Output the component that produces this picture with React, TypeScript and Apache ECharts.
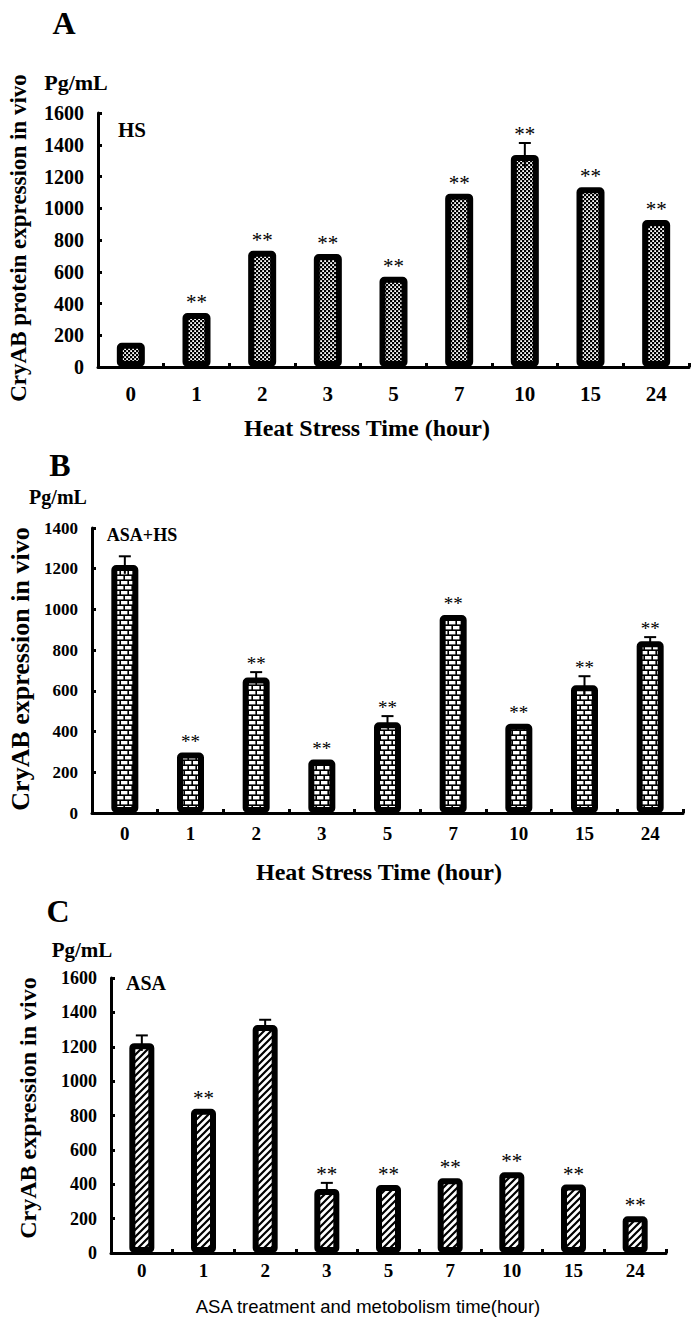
import React, { useEffect, useRef } from "react";
import * as echarts from "echarts";

// ---- data ----
const categories = ["0", "1", "2", "3", "5", "7", "10", "15", "24"];

const hsValues = [152, 340, 732, 712, 568, 1092, 1336, 1132, 926];
const hsErrors = [0, 0, 0, 0, 0, 0, 75, 0, 0];
const hsSig = ["", "**", "**", "**", "**", "**", "**", "**", "**"];

const asaHsValues = [1218, 297, 666, 263, 446, 973, 438, 627, 844];
const asaHsErrors = [43, 0, 26, 0, 30, 0, 0, 45, 20];
const asaHsSig = ["", "**", "**", "**", "**", "**", "**", "**", "**"];

const asaValues = [1221, 839, 1327, 373, 396, 435, 470, 398, 214];
const asaErrors = [45, 0, 30, 35, 0, 0, 0, 0, 0];
const asaSig = ["", "**", "", "**", "**", "**", "**", "**", "**"];

const yMaxA = 1600;
const yMaxB = 1400;
const yMaxC = 1600;
const yStep = 200;

// ---- patterns ----
const svgUrl = (s: string) => "data:image/svg+xml;utf8," + encodeURIComponent(s);
const checkerSvg =
  "<svg xmlns='http://www.w3.org/2000/svg' width='4' height='4'><rect width='4' height='4' fill='black'/><rect x='0.2' y='0.2' width='1.8' height='1.8' fill='white'/><rect x='2.2' y='2.2' width='1.8' height='1.8' fill='white'/></svg>";
const brickSvg =
  "<svg xmlns='http://www.w3.org/2000/svg' width='16' height='10'><rect width='16' height='10' fill='black'/>" +
  "<rect x='1' y='1' width='6.4' height='3.4' fill='white'/><rect x='9' y='1' width='6.4' height='3.4' fill='white'/>" +
  "<rect x='-3' y='6' width='6.4' height='3.4' fill='white'/><rect x='5' y='6' width='6.4' height='3.4' fill='white'/><rect x='13' y='6' width='6.4' height='3.4' fill='white'/></svg>";
const hatchSvg =
  "<svg xmlns='http://www.w3.org/2000/svg' width='7' height='7'><rect width='7' height='7' fill='white'/><path d='M-1,1 L1,-1 M0,7 L7,0 M6,8 L8,6' stroke='black' stroke-width='2.2'/></svg>";

const pattern = (svg: string, w: number, h: number) => ({
  image: svgUrl(svg),
  repeat: "repeat",
  imageWidth: w,
  imageHeight: h,
});

const SERIF = '"Liberation Serif", "Times New Roman", serif';

function errRender(sigs: string[], starSize: number) {
  return (params: any, api: any) => {
    const i = api.value(0);
    const v = api.value(1);
    const e = api.value(2);
    const top = api.coord([i, v + e]);
    const bot = api.coord([i, v - e]);
    const children: any[] = [];
    if (e > 0) {
      children.push(
        {
          type: "line",
          shape: { x1: top[0], y1: top[1], x2: bot[0], y2: bot[1] },
          style: { stroke: "#000", lineWidth: 2 },
        },
        {
          type: "line",
          shape: { x1: top[0] - 6, y1: top[1], x2: top[0] + 6, y2: top[1] },
          style: { stroke: "#000", lineWidth: 2 },
        }
      );
    }
    const s = sigs[params.dataIndex];
    if (s) {
      children.push({
        type: "text",
        x: top[0],
        y: top[1] - (e > 0 ? 9 : 11),
        style: {
          text: s,
          align: "center",
          verticalAlign: "middle",
          font: `${starSize}px ${SERIF}`,
          fill: "#000",
        },
      });
    }
    return { type: "group", children };
  };
}

function makeAxes(idx: number, max: number, labelSize: number, xLabelSize: number, xMargin: number) {
  const xAxis = {
    type: "category",
    gridIndex: idx,
    data: categories,
    axisLine: { lineStyle: { color: "#000", width: 3 } },
    axisTick: { show: true, inside: true, length: 4, lineStyle: { color: "#000", width: 3 } },
    axisLabel: {
      color: "#000",
      fontFamily: SERIF,
      fontWeight: "bold",
      fontSize: xLabelSize,
      margin: xMargin,
    },
  };
  const yAxis = {
    type: "value",
    gridIndex: idx,
    min: 0,
    max,
    interval: yStep,
    splitLine: { show: false },
    axisLine: { show: true, lineStyle: { color: "#000", width: 3 } },
    axisTick: { show: true, inside: true, length: 4, lineStyle: { color: "#000", width: 3 } },
    axisLabel: {
      color: "#000",
      fontFamily: SERIF,
      fontWeight: "bold",
      fontSize: labelSize,
      margin: 14,
      formatter: (v: number) => String(v),
    },
  };
  return { xAxis, yAxis };
}

function barSeries(idx: number, values: number[], pat: any, barWidth: number) {
  return {
    type: "bar",
    xAxisIndex: idx,
    yAxisIndex: idx,
    data: values,
    barWidth,
    silent: true,
    itemStyle: { color: pat, borderColor: "#000", borderWidth: 6, borderRadius: 2 },
    emphasis: { disabled: true },
    z: 2,
  };
}

function errSeries(idx: number, values: number[], errs: number[], sigs: string[], starSize: number) {
  return {
    type: "custom",
    xAxisIndex: idx,
    yAxisIndex: idx,
    silent: true,
    renderItem: errRender(sigs, starSize),
    data: values.map((v, i) => [i, v, errs[i]]),
    z: 5,
  };
}

const txt = (text: string, x: number, y: number, size: number, opts: any = {}) => ({
  type: "text",
  x,
  y,
  rotation: opts.rotation || 0,
  style: {
    text,
    align: opts.align || "center",
    verticalAlign: "middle",
    font: `${opts.weight || "bold"} ${size}px ${opts.family || SERIF}`,
    fill: "#000",
  },
});

export default function App() {
  const ref = useRef<HTMLDivElement>(null);
  useEffect(() => {
    if (!ref.current) return;
    const chart = echarts.init(ref.current, null, { renderer: "svg" });
    const a = makeAxes(0, yMaxA, 20, 21, 16);
    const b = makeAxes(1, yMaxB, 17, 19, 11);
    const c = makeAxes(2, yMaxC, 18, 19, 8);
    chart.setOption({
      animation: false,
      backgroundColor: "#fff",
      grid: [
        { left: 98, top: 113, width: 591, height: 254 },
        { left: 92, top: 528, width: 591, height: 285 },
        { left: 111, top: 978, width: 555, height: 275 },
      ],
      xAxis: [a.xAxis, b.xAxis, c.xAxis],
      yAxis: [a.yAxis, b.yAxis, c.yAxis],
      series: [
        barSeries(0, hsValues, pattern(checkerSvg, 4, 4), 28),
        errSeries(0, hsValues, hsErrors, hsSig, 21),
        barSeries(1, asaHsValues, pattern(brickSvg, 16, 10), 27),
        errSeries(1, asaHsValues, asaHsErrors, asaHsSig, 19),
        barSeries(2, asaValues, pattern(hatchSvg, 7, 7), 25),
        errSeries(2, asaValues, asaErrors, asaSig, 21),
      ],
      graphic: [
        txt("A", 64, 23, 32),
        txt("Pg/mL", 76, 82, 22),
        txt("HS", 132, 130, 21),
        txt("CryAB protein expression in vivo", 18, 238, 23, { rotation: Math.PI / 2 }),
        txt("Heat Stress Time (hour)", 367, 428, 24),

        txt("B", 60, 465, 32),
        txt("Pg/mL", 58, 497, 20),
        txt("ASA+HS", 142, 535, 18),
        txt("CryAB expression in vivo", 20, 669, 26, { rotation: Math.PI / 2 }),
        txt("Heat Stress Time (hour)", 379, 872, 24),

        txt("C", 58, 911, 32),
        txt("Pg/mL", 82, 950, 21),
        txt("ASA", 146, 983, 20),
        txt("CryAB expression in vivo", 28, 1108, 24, { rotation: Math.PI / 2 }),
        txt("ASA treatment and metobolism time(hour)", 368, 1306, 18.5, {
          weight: "normal",
          family: '"Liberation Sans", Arial, sans-serif',
        }),
      ],
    });
    return () => chart.dispose();
  }, []);
  return (
    <div
      ref={ref}
      style={{ position: "absolute", left: 0, top: 0, width: 700, height: 1326, background: "#fff" }}
    />
  );
}
